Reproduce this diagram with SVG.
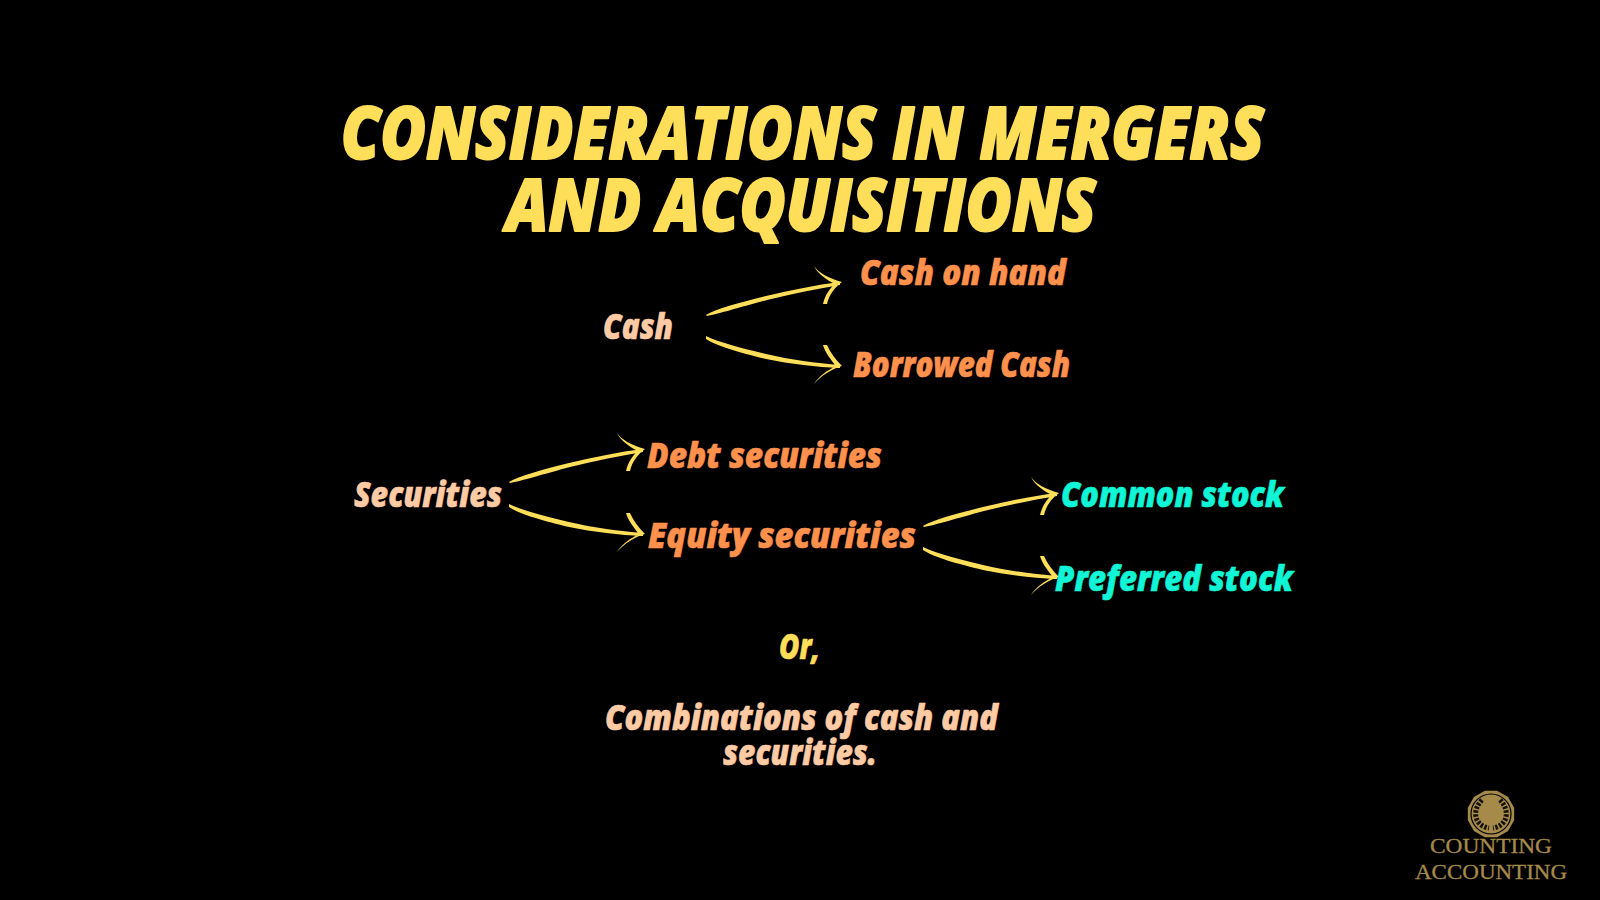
<svg xmlns="http://www.w3.org/2000/svg" xmlns:xlink="http://www.w3.org/1999/xlink" width="1600" height="900" viewBox="0 0 1600 900">
<style>
text{font-family:"Open Sans","Noto Sans","Liberation Sans",sans-serif;font-style:italic;font-weight:800;stroke-linejoin:round}
.title{font-size:72px;fill:#ffde59;stroke:#ffde59;stroke-width:2px}
.peach{font-size:35px;fill:#ffcba4;stroke:#ffcba4;stroke-width:.6px}
.orange{font-size:35px;fill:#ff914d;stroke:#ff914d;stroke-width:.6px}
.cyan{font-size:35px;fill:#0ff5d6;stroke:#0ff5d6;stroke-width:.6px}
.yellow{font-size:35px;fill:#ffde59;stroke:#ffde59;stroke-width:.6px}
.logo{font-family:"Liberation Serif",serif;font-style:normal;font-weight:400;font-size:20px;fill:#a58a4a;stroke:#a58a4a;stroke-width:.3px}
.arrow{fill:#ffde59}
</style>
<defs>
<path id="up" d="M0,0C10,-6 32,-12 60,-19C85,-25 110,-30 134,-33L134,-30C110,-26 85,-21 61,-15C35,-8 12,-1 1,1ZM108,-49C113,-42 122,-37 136,-33C128,-27 123,-20 121,-11L117,-11C119,-20 124,-27 129,-31C121,-35 112,-41 108,-49Z"/>
<path id="down" d="M0,0C12,6 35,12 60,18C85,24 110,27 134,29L134,32C110,31 85,28 60,23C35,17 10,10 0,3ZM117,9L121,9C124,16 129,23 136,30C125,33 115,40 108,48C113,40 122,34 130,30C125,24 119,16 117,9Z"/>
</defs>
<rect width="1600" height="900" fill="#000"/>
<g id="title">
<text class="title" x="341" y="159" textLength="923" lengthAdjust="spacingAndGlyphs">CONSIDERATIONS IN MERGERS</text>
<text class="title" x="506" y="231" textLength="590" lengthAdjust="spacingAndGlyphs">AND ACQUISITIONS</text>
</g>
<g id="connectors" class="arrow">
<use xlink:href="#up" href="#up" x="706" y="315"/>
<use xlink:href="#down" href="#down" x="706" y="336"/>
<use xlink:href="#up" href="#up" x="509" y="482"/>
<use xlink:href="#down" href="#down" x="509" y="504"/>
<use xlink:href="#up" href="#up" x="923" y="526"/>
<use xlink:href="#down" href="#down" x="923" y="547"/>
</g>
<g id="node-cash"><text class="peach" x="603" y="339" textLength="70" lengthAdjust="spacingAndGlyphs">Cash</text></g>
<g id="node-cash-on-hand"><text class="orange" x="860" y="285" textLength="206" lengthAdjust="spacingAndGlyphs">Cash on hand</text></g>
<g id="node-borrowed-cash"><text class="orange" x="853" y="377" textLength="217" lengthAdjust="spacingAndGlyphs">Borrowed Cash</text></g>
<g id="node-securities"><text class="peach" x="354" y="507" textLength="148" lengthAdjust="spacingAndGlyphs">Securities</text></g>
<g id="node-debt"><text class="orange" x="647" y="468" textLength="235" lengthAdjust="spacingAndGlyphs">Debt securities</text></g>
<g id="node-equity"><text class="orange" x="648" y="548" textLength="268" lengthAdjust="spacingAndGlyphs">Equity securities</text></g>
<g id="node-common"><text class="cyan" x="1061" y="507" textLength="223" lengthAdjust="spacingAndGlyphs">Common stock</text></g>
<g id="node-preferred"><text class="cyan" x="1055" y="591" textLength="238" lengthAdjust="spacingAndGlyphs">Preferred stock</text></g>
<g id="note">
<text class="yellow" x="779" y="659" textLength="41" lengthAdjust="spacingAndGlyphs">Or,</text>
<text class="peach" x="605" y="730" textLength="393" lengthAdjust="spacingAndGlyphs">Combinations of cash and</text>
<text class="peach" x="723" y="765" textLength="154" lengthAdjust="spacingAndGlyphs">securities.</text>
</g>
<g id="logo">
<polygon points="1512.7,819.8 1506.9,829.9 1496.8,835.7 1485.2,835.7 1475.1,829.9 1469.3,819.8 1469.3,808.2 1475.1,798.1 1485.2,792.3 1496.8,792.3 1506.9,798.1 1512.7,808.2" fill="#a58a4a" stroke="#a58a4a" stroke-width="3" stroke-linejoin="round"/>
<circle cx="1491" cy="814" r="20" fill="none" stroke="#000" stroke-width="1.2"/>
<path d="M1482,800C1471,811 1475,826 1489,828M1500,800C1511,811 1507,826 1493,828" fill="none" stroke="#14110a" stroke-width="5" stroke-dasharray="2.5 1.5"/>
<text class="logo" x="1430" y="853" textLength="122" lengthAdjust="spacingAndGlyphs">COUNTING</text>
<text class="logo" x="1415" y="879" textLength="152" lengthAdjust="spacingAndGlyphs">ACCOUNTING</text>
</g>
</svg>
